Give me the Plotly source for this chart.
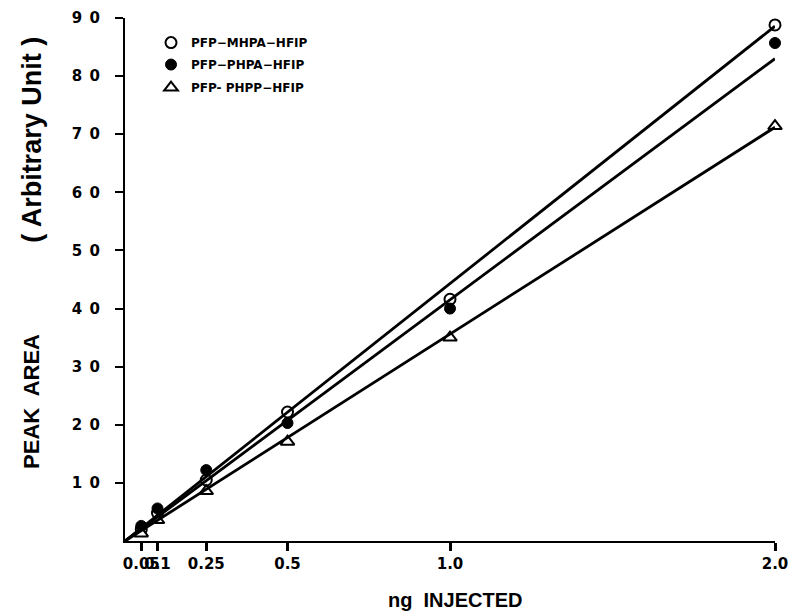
import plotly.graph_objects as go

# Data
x_ng = [0.05, 0.1, 0.25, 0.5, 1.0, 2.0]
mhpa = [2.0, 4.8, 10.5, 22.2, 41.6, 88.8]
phpa = [2.6, 5.6, 12.2, 20.3, 40.0, 85.7]
phpp = [1.3, 3.6, 8.6, 17.1, 35.0, 71.4]

# Fitted calibration lines (end points)
fit_x = [0.0, 2.0]
fit_mhpa = [0.0, 88.6]
fit_phpa = [0.0, 83.0]
fit_phpp = [0.0, 71.2]

xtick_vals = [0.05, 0.1, 0.25, 0.5, 1.0, 2.0]
xtick_text = ["0.05", "0.1", "0.25", "0.5", "1.0", "2.0"]
ytick_vals = [10, 20, 30, 40, 50, 60, 70, 80, 90]
ytick_text = ["1\u20020", "2\u20020", "3\u20020", "4\u20020", "5\u20020",
              "6\u20020", "7\u20020", "8\u20020", "9\u20020"]

names = ["PFP\u2212MHPA\u2212HFIP", "PFP\u2212PHPA\u2212HFIP", "PFP- PHPP\u2212HFIP"]

fig = go.Figure()
for fy in [fit_mhpa, fit_phpa, fit_phpp]:
    fig.add_trace(go.Scatter(x=fit_x, y=fy, mode="lines", yaxis="y2",
                             line=dict(color="black", width=2.8),
                             showlegend=False, cliponaxis=False, hoverinfo="skip"))

fig.add_trace(go.Scatter(x=x_ng, y=mhpa, mode="markers", name=names[0], legend="legend",
                         marker=dict(symbol="circle", size=11, color="white",
                                     line=dict(color="black", width=2)),
                         cliponaxis=False))
fig.add_trace(go.Scatter(x=x_ng, y=phpa, mode="markers", name=names[1], legend="legend2",
                         marker=dict(symbol="circle", size=11, color="black",
                                     line=dict(color="black", width=1)),
                         cliponaxis=False))
fig.add_trace(go.Scatter(x=x_ng, y=phpp, mode="markers", name=names[2], legend="legend3",
                         marker=dict(symbol="triangle-up", size=12, color="white",
                                     line=dict(color="black", width=2)),
                         cliponaxis=False))

tickfont = dict(family="DejaVu Sans", size=15, color="black", weight="bold")
legfont = dict(family="DejaVu Sans", size=12, color="black", weight="bold")

L = 109
PW = 666
dom0 = 16 / PW

def leg(y):
    return dict(x=(151 - L) / PW, y=y, xanchor="left", yanchor="middle", font=legfont,
                bgcolor="rgba(0,0,0,0)", itemwidth=30)

fig.update_layout(
    width=792, height=616,
    margin=dict(l=L, r=17, t=18, b=75),
    paper_bgcolor="white", plot_bgcolor="white",
    showlegend=True,
    legend=leg(0.953), legend2=leg(0.911), legend3=leg(0.867),
    xaxis=dict(domain=[dom0, 1], range=[0, 2.0], tickmode="array",
               tickvals=xtick_vals, ticktext=xtick_text,
               tickangle=0, showgrid=False, zeroline=False, showline=True, automargin=False,
               linecolor="black", linewidth=2, ticks="outside", ticklen=8,
               tickwidth=2.5, tickcolor="black", tickfont=tickfont),
    yaxis=dict(range=[0, 90], tickmode="array", tickvals=ytick_vals,
               showticklabels=False,
               showgrid=False, zeroline=False, showline=True, automargin=False,
               linecolor="black", linewidth=2, ticks="outside", ticklen=8,
               tickwidth=2, tickcolor="black"),
    yaxis2=dict(range=[0, 90], overlaying="y", side="left", anchor="free", position=0,
                tickmode="array", tickvals=ytick_vals, ticktext=ytick_text,
                showgrid=False, zeroline=False, showline=False, automargin=False,
                ticks="outside", ticklen=6, tickcolor="rgba(0,0,0,0)",
                tickfont=tickfont),
    annotations=[
        dict(text="PEAK  AREA", xref="paper", yref="paper",
             x=(32 - L) / PW, y=0.266, xanchor="center", yanchor="middle",
             textangle=-90, showarrow=False,
             font=dict(family="Liberation Sans", size=22, color="black", weight="bold")),
        dict(text="( Arbitrary Unit )", xref="paper", yref="paper",
             x=(32 - L) / PW, y=0.767, xanchor="center", yanchor="middle",
             textangle=-90, showarrow=False,
             font=dict(family="Liberation Sans", size=27, color="black", weight="bold")),
        dict(text="ng  INJECTED", xref="paper", yref="paper",
             x=(455 - L) / PW, y=-0.113, xanchor="center", yanchor="middle", showarrow=False,
             font=dict(family="Liberation Sans", size=20, color="black", weight="bold")),
    ],
)

fig.write_html("out.html", config={"displayModeBar": False},
               post_script="document.body.style.margin='0';document.body.style.overflow='hidden';")
